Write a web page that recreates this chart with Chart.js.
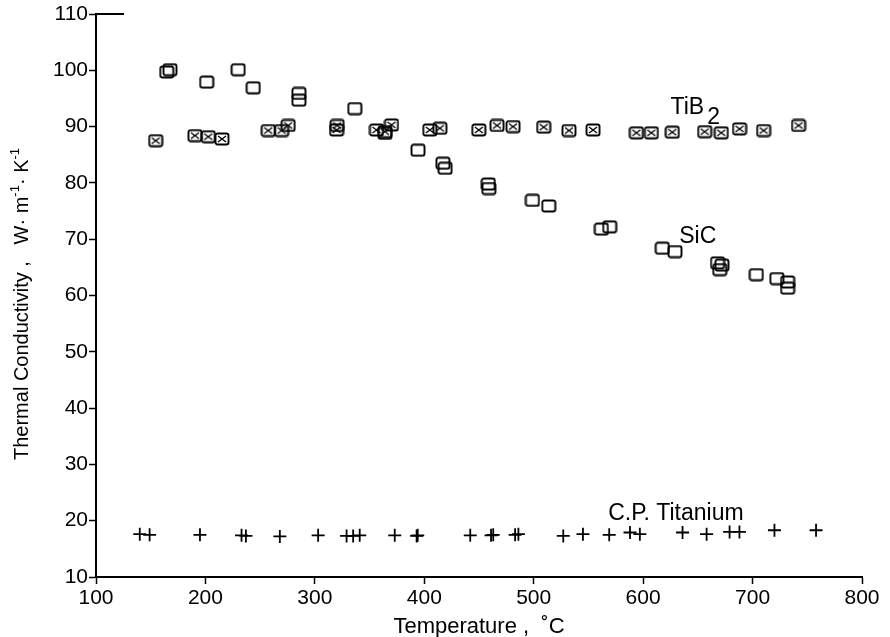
<!DOCTYPE html>
<html>
<head>
<meta charset="utf-8">
<script src="https://cdn.jsdelivr.net/npm/chart.js@4/dist/chart.umd.min.js"></script>
<style>
  html, body { margin: 0; padding: 0; background: #fff; }
  #wrap { width: 890px; height: 637px; position: relative; }
</style>
</head>
<body>
<div id="wrap"><canvas id="chart"></canvas></div>
<script>
// SiC (open squares)
const sicTemp = [164.6, 167.6, 201.1, 229.9, 243.7, 285.4, 285.4, 336.5, 364, 394.2, 417, 419, 458.5, 459, 498.8, 513.7, 561.8, 569.4, 617.5, 629.1, 668, 672, 670, 703.4, 722.2, 732, 732]
const sicCond = [99.7, 100.1, 97.9, 100.1, 96.9, 95.9, 94.7, 93.2, 88.8, 85.8, 83.5, 82.6, 79.8, 79.0, 76.9, 75.9, 71.8, 72.2, 68.4, 67.8, 65.8, 65.4, 64.6, 63.7, 63.0, 62.4, 61.3]

// TiB2 (crossed squares)
const tib2Temp = [154.5, 190.4, 202.6, 215.1, 257.4, 269.6, 275.6, 319.8, 320.4, 356.3, 364, 370, 405, 414.2, 449.8, 466.5, 481.1, 509.1, 532.2, 554.2, 593.8, 607.5, 626.6, 656.2, 671.4, 688.1, 710.1, 742]
const tib2Cond = [87.5, 88.4, 88.2, 87.8, 89.3, 89.3, 90.2, 89.4, 90.2, 89.4, 89.1, 90.3, 89.4, 89.7, 89.4, 90.2, 90.0, 89.9, 89.3, 89.4, 88.9, 88.9, 89.0, 89.1, 88.9, 89.6, 89.3, 90.2]

// C.P. Titanium (plus signs)
const tiTemp = [140, 149, 195, 233, 237, 268, 303, 329, 335, 341, 373, 393, 394, 442, 461, 463, 483, 486, 527, 545, 569, 588, 597, 636, 658, 679, 688, 720, 758]
const tiCond = [17.6, 17.5, 17.5, 17.4, 17.3, 17.2, 17.4, 17.3, 17.3, 17.4, 17.4, 17.3, 17.4, 17.4, 17.4, 17.5, 17.5, 17.6, 17.3, 17.6, 17.5, 17.9, 17.6, 17.9, 17.6, 18.0, 18.0, 18.3, 18.3]

// axis ticks
const xTicks = [100, 200, 300, 400, 500, 600, 700, 800]
const yTicks = [10, 20, 30, 40, 50, 60, 70, 80, 90, 100, 110]

// series labels placed in data space
const seriesLabels = [
  { text: "TiB", sub: "2", x: 625, y: 93.4 },
  { text: "SiC", sub: "", x: 633, y: 70.4 },
  { text: "C.P. Titanium", sub: "", x: 568, y: 21.3 }
]

const FONT = "Liberation Sans, Arial, Helvetica, sans-serif"

function toPoints(xs, ys) {
  return xs.map((x, i) => ({ x: x, y: ys[i] }))
}

function makeBox(crossed) {
  const c = document.createElement("canvas")
  c.width = 16
  c.height = 14
  const g = c.getContext("2d")
  g.strokeStyle = "#000"
  g.lineWidth = 1.9
  g.beginPath()
  g.roundRect(1.5, 1.5, 13, 11, 2)
  g.stroke()
  if (crossed) {
    g.lineWidth = 1.4
    g.beginPath()
    g.moveTo(4, 4); g.lineTo(12, 10)
    g.moveTo(12, 4); g.lineTo(4, 10)
    g.stroke()
  }
  return c
}

const annotations = {
  id: "annotations",
  afterDraw(chart) {
    const ctx = chart.ctx
    const xs = chart.scales.x
    const ys = chart.scales.y
    ctx.save()
    ctx.fillStyle = "#000"

    // top stub of frame
    ctx.strokeStyle = "#000"
    ctx.lineWidth = 2
    ctx.beginPath()
    ctx.moveTo(xs.left - 1, ys.top)
    ctx.lineTo(xs.left + 28, ys.top)
    ctx.stroke()

    // series labels
    ctx.textBaseline = "middle"
    ctx.textAlign = "left"
    seriesLabels.forEach(l => {
      const px = xs.getPixelForValue(l.x)
      const py = ys.getPixelForValue(l.y)
      ctx.font = "23px " + FONT
      ctx.fillText(l.text, px, py)
      if (l.sub) {
        const w = ctx.measureText(l.text).width
        ctx.fillText(l.sub, px + w + 3, py + 10)
      }
    })

    // x title
    ctx.font = "22px " + FONT
    ctx.textAlign = "center"
    ctx.textBaseline = "alphabetic"
    const cx = (xs.left + xs.right) / 2
    ctx.fillText("Temperature ,  \u02DAC", cx, 633)

    // y title, rotated
    ctx.translate(22, 304)
    ctx.rotate(-Math.PI / 2)
    const parts = [
      { t: "Thermal Conductivity ,   W\u00B7 m", sup: false },
      { t: "-1", sup: true },
      { t: "\u00B7 K", sup: false },
      { t: "-1", sup: true }
    ]
    let total = 0
    parts.forEach(p => {
      ctx.font = (p.sup ? "13px " : "20px ") + FONT
      p.w = ctx.measureText(p.t).width
      total += p.w
    })
    let pos = -total / 2
    ctx.textAlign = "left"
    ctx.textBaseline = "middle"
    parts.forEach(p => {
      ctx.font = (p.sup ? "13px " : "20px ") + FONT
      ctx.fillText(p.t, pos, p.sup ? -7 : 0)
      pos += p.w
    })
    ctx.restore()
  }
}

new Chart(document.getElementById("chart"), {
  type: "scatter",
  data: {
    datasets: [
      {
        label: "TiB2",
        data: toPoints(tib2Temp, tib2Cond),
        pointStyle: makeBox(true),
        pointRadius: 7
      },
      {
        label: "SiC",
        data: toPoints(sicTemp, sicCond),
        pointStyle: makeBox(false),
        pointRadius: 7
      },
      {
        label: "C.P. Titanium",
        data: toPoints(tiTemp, tiCond),
        pointStyle: "cross",
        pointRadius: 6.5,
        borderColor: "#000",
        borderWidth: 1.8,
        backgroundColor: "#000"
      }
    ]
  },
  options: {
    responsive: true,
    maintainAspectRatio: false,
    animation: false,
    layout: {
      padding: { top: 14, right: 28, left: 0, bottom: 0 }
    },
    plugins: {
      legend: { display: false },
      tooltip: { enabled: false }
    },
    scales: {
      x: {
        type: "linear",
        min: 100,
        max: 800,
        afterBuildTicks: (scale) => { scale.ticks = xTicks.map(v => ({ value: v })) },
        afterFit: (scale) => { scale.height = 60 },
        border: { display: true, color: "#000", width: 2 },
        grid: { drawOnChartArea: false, drawTicks: true, tickLength: 7, tickColor: "#000", tickWidth: 1.5 },
        ticks: { color: "#000", font: { family: FONT, size: 21 }, padding: 2, maxRotation: 0 }
      },
      y: {
        type: "linear",
        min: 10,
        max: 110,
        afterBuildTicks: (scale) => { scale.ticks = yTicks.map(v => ({ value: v })) },
        afterFit: (scale) => { scale.width = 96 },
        border: { display: true, color: "#000", width: 2 },
        grid: { drawOnChartArea: false, drawTicks: true, tickLength: 7, tickColor: "#000", tickWidth: 1.5 },
        ticks: { color: "#000", font: { family: FONT, size: 21 }, padding: 1 }
      }
    }
  },
  plugins: [annotations]
})
</script>
</body>
</html>
